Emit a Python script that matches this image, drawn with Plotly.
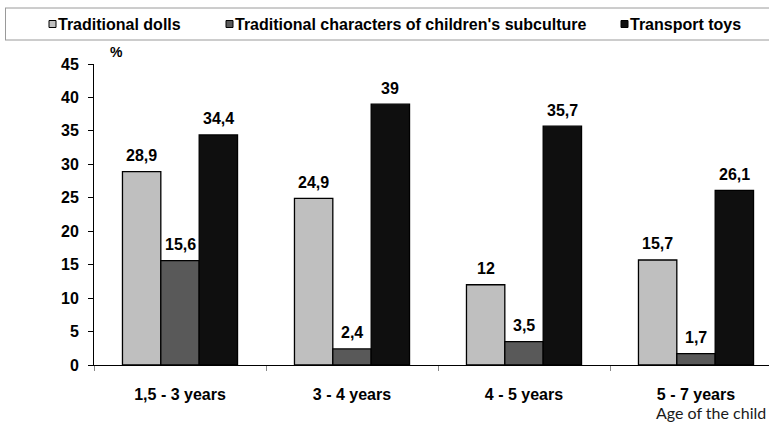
import plotly.graph_objects as go

# Age groups and share of each toy type (%)
age_groups = ["1,5 - 3 years", "3 - 4 years", "4 - 5 years", "5 - 7 years"]
series_names = [
    "Traditional dolls",
    "Traditional characters of children's subculture",
    "Transport toys",
]
traditional_dolls = [28.9, 24.9, 12, 15.7]
subculture_characters = [15.6, 2.4, 3.5, 1.7]
transport_toys = [34.4, 39, 35.7, 26.1]
y_ticks = [0, 5, 10, 15, 20, 25, 30, 35, 40, 45]

series_values = [traditional_dolls, subculture_characters, transport_toys]
series_colors = ["#BFBFBF", "#595959", "#0F0F0F"]

W, H = 769, 424
ML, MR, MT, MB = 94, 0, 64, 59
PLOT_W = W - ML - MR
CAT_PX = 172  # width of one category slot in pixels

BOLD = dict(family="Liberation Sans, Arial", size=16, color="#000000", weight="bold")


def px_x(px):
    """Convert a page x pixel to paper coordinates."""
    return (px - ML) / PLOT_W


def px_y(py):
    """Convert a page y pixel (from top) to paper coordinates."""
    return 1 - (py - MT) / (H - MT - MB)


def fmt(v):
    return ("%g" % v).replace(".", ",")


fig = go.Figure()
for name, vals, col in zip(series_names, series_values, series_colors):
    fig.add_trace(
        go.Bar(
            x=age_groups,
            y=vals,
            name=name,
            marker=dict(color=col, line=dict(color="#000000", width=1.3)),
            showlegend=False,
        )
    )

# Value labels above each bar
n = len(series_names)
group_frac = 1 - 0.331
for i, vals in enumerate(series_values):
    offset = (i - (n - 1) / 2) * group_frac / n
    for j, v in enumerate(vals):
        fig.add_annotation(
            x=j + offset,
            y=v,
            xref="x",
            yref="y",
            text=fmt(v),
            showarrow=False,
            yanchor="middle",
            yshift=16,
            font=BOLD,
        )

# Legend drawn as a framed strip across the top
legend_line = dict(color="#9A9A9A", width=1)
fig.add_shape(type="line", xref="paper", yref="paper",
              x0=px_x(5), x1=px_x(800), y0=px_y(8), y1=px_y(8), line=legend_line)
fig.add_shape(type="line", xref="paper", yref="paper",
              x0=px_x(5), x1=px_x(800), y0=px_y(40), y1=px_y(40), line=legend_line)
fig.add_shape(type="line", xref="paper", yref="paper",
              x0=px_x(5.5), x1=px_x(5.5), y0=px_y(8), y1=px_y(40), line=legend_line)

legend_square_x = [49, 226, 621]
for name, col, sx in zip(series_names, series_colors, legend_square_x):
    fig.add_shape(type="rect", xref="paper", yref="paper",
                  x0=px_x(sx), x1=px_x(sx + 7), y0=px_y(20.5), y1=px_y(27.5),
                  fillcolor=col, line=dict(color="#000000", width=1))
    fig.add_annotation(
        x=px_x(sx + 7), y=px_y(24), xref="paper", yref="paper",
        text=name, showarrow=False, xanchor="left", yanchor="middle",
        font=BOLD,
    )

# Axis unit and axis title
fig.add_annotation(
    x=px_x(116), y=px_y(52), xref="paper", yref="paper", text="%",
    showarrow=False, xanchor="center", yanchor="middle",
    font=dict(BOLD, size=14),
)
fig.add_annotation(
    x=px_x(654), y=px_y(412), xref="paper", yref="paper", text="Age of the child",
    showarrow=False, xanchor="left", yanchor="middle",
    font=dict(family="Lato, Noto Sans", size=16, color="#1A1A1A", weight="normal"),
)

fig.update_layout(
    width=W,
    height=H,
    margin=dict(l=ML, r=MR, t=MT, b=MB),
    paper_bgcolor="white",
    plot_bgcolor="white",
    barmode="group",
    bargap=0.331,
    bargroupgap=0,
    font=BOLD,
)
fig.update_xaxes(
    range=[-0.5, -0.5 + PLOT_W / CAT_PX],
    showline=True,
    linecolor="#000000",
    linewidth=1.3,
    ticks="outside",
    tickson="boundaries",
    ticklen=5,
    tickcolor="#888888",
    tickfont=BOLD,
    ticklabelstandoff=15,
    showgrid=False,
    zeroline=False,
)
fig.update_yaxes(
    range=[0, 45],
    tickvals=y_ticks,
    showline=True,
    linecolor="#000000",
    linewidth=1,
    ticks="outside",
    ticklen=5,
    tickcolor="#000000",
    tickfont=BOLD,
    ticklabelstandoff=6,
    showgrid=False,
    zeroline=False,
)

fig.write_html("out.html")
